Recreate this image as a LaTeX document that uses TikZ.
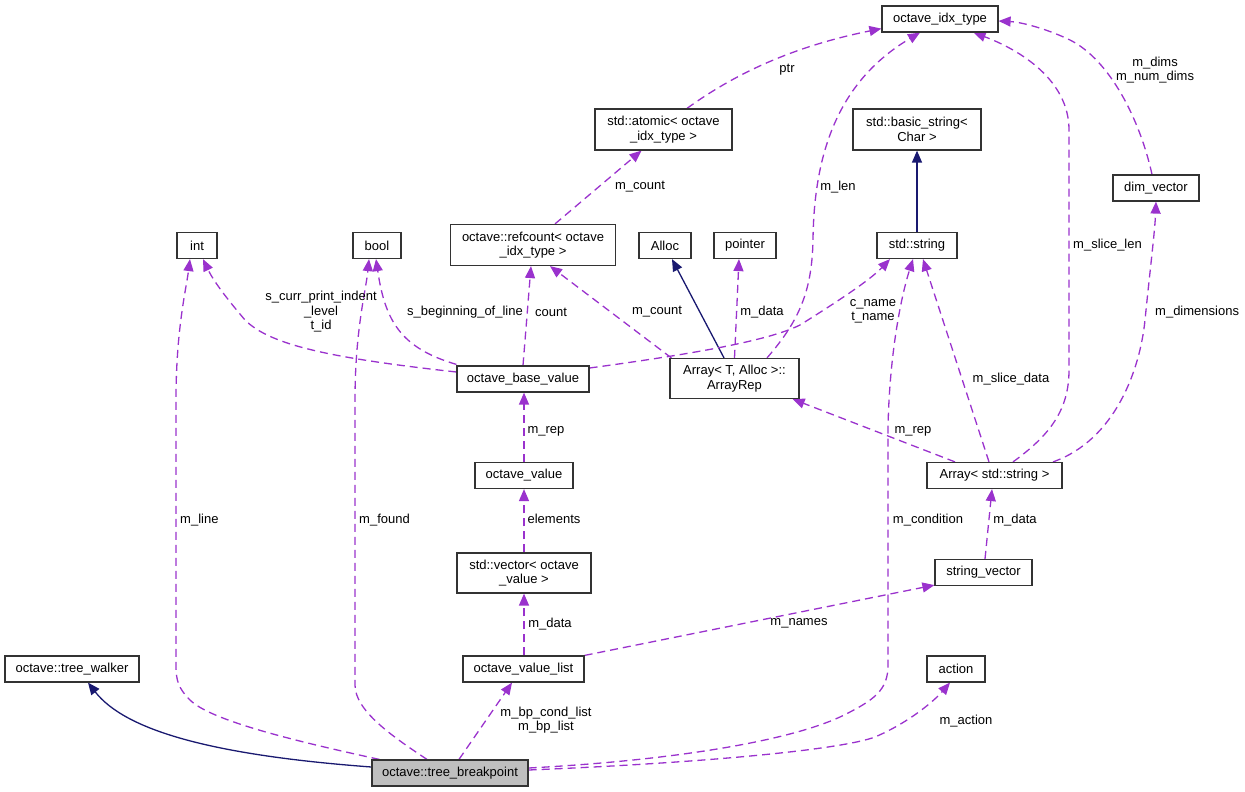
\documentclass[tikz,border=0pt]{standalone}
\usepackage{fontspec}
\setmainfont{Liberation Sans}
\usetikzlibrary{arrows.meta,backgrounds}
\definecolor{edgepurple}{HTML}{9A32CD}
\definecolor{edgenavy}{HTML}{191970}
\definecolor{boxgray}{HTML}{BFBFBF}
\begin{document}
\begin{tikzpicture}[x=1pt,y=-1pt,
  every node/.style={font=\fontsize{13}{14.5}\selectfont},
  cls/.style={draw=black!80, line width=1.2pt, fill=white, inner sep=0pt, align=center, minimum height=26pt},
  lbl/.style={inner sep=0pt, align=center},
  uses/.style={draw=edgepurple, line width=1.3pt, dash pattern=on 8pt off 5pt, -{Triangle[length=12pt,width=10pt]}},
  inherit/.style={draw=edgenavy, line width=1.3pt, -{Triangle[length=12pt,width=10pt]}},
]
\useasboundingbox (0,0) rectangle (1245,792);

% nodes
\node[cls, minimum width=116pt] (idx) at (940,19) {octave\_idx\_type};
\node[cls, minimum width=137pt, minimum height=41pt] (atomic) at (663.5,129.5) {std::atomic< octave\\\_idx\_type >};
\node[cls, minimum width=128pt, minimum height=41pt] (bstr) at (917,129.5) {std::basic\_string<\\Char >};
\node[cls, minimum width=86pt] (dimv) at (1156,188) {dim\_vector};
\node[cls, minimum width=40pt] (int) at (197,245.5) {int};
\node[cls, minimum width=48pt] (bool) at (377,245.5) {bool};
\node[cls, minimum width=165pt, minimum height=41pt] (refc) at (533,245) {octave::refcount< octave\\\_idx\_type >};
\node[cls, minimum width=52pt] (alloc) at (665,245.5) {Alloc};
\node[cls, minimum width=62pt] (pointer) at (745,245.5) {pointer};
\node[cls, minimum width=80pt] (sstr) at (917,245.5) {std::string};
\node[cls, minimum width=132pt] (obv) at (523,379) {octave\_base\_value};
\node[cls, minimum width=129pt, minimum height=40pt] (arep) at (734.5,378.5) {Array< T, Alloc >::\\ArrayRep};
\node[cls, minimum width=135pt] (astr) at (994.5,475.5) {Array< std::string >};
\node[cls, minimum width=98pt] (ov) at (524,475.5) {octave\_value};
\node[cls, minimum width=134pt, minimum height=40pt] (svec) at (524,573) {std::vector< octave\\\_value >};
\node[cls, minimum width=97pt] (strv) at (983.5,572.5) {string\_vector};
\node[cls, minimum width=134pt] (tw) at (72,669) {octave::tree\_walker};
\node[cls, minimum width=121pt] (ovl) at (523.5,669) {octave\_value\_list};
\node[cls, minimum width=58pt] (act) at (956,669) {action};
\node[cls, minimum width=156pt, fill=boxgray] (tb) at (450,773) {octave::tree\_breakpoint};

\begin{pgfonlayer}{background}
% inheritance
\draw[inherit] ([yshift=6pt]tb.west) .. controls (210,755) and (125,730) .. ([xshift=16pt]tw.south);
\draw[inherit] (sstr.north) -- (bstr.south);
\draw[inherit] ([xshift=-10.5pt]arep.north) -- ([xshift=7pt]alloc.south);

% usage
\draw[uses] ([xshift=8pt]tb.north west) .. controls (290,740) and (210,720) .. (190,700) .. controls (178,688) and (176,680) .. (176,665) -- (176,400) .. controls (176,330) and (186,290) .. ([xshift=-7pt]int.south);
\draw[uses] ([xshift=-23pt]tb.north) .. controls (390,735) and (355,710) .. (355,685) -- (355,400) .. controls (355,330) and (366,290) .. ([xshift=-8pt]bool.south);
\draw[uses] ([yshift=7pt]obv.west) .. controls (330,358) and (270,345) .. (245,320) .. controls (228,300) and (214,282) .. ([xshift=6pt]int.south);
\draw[uses] ([yshift=1pt]obv.north west) .. controls (400,348) and (385,320) .. ([xshift=-1pt]bool.south);
\draw[uses] (obv.north) -- ([xshift=-2pt]refc.south);
\draw[uses] ([yshift=11pt]obv.east) .. controls (700,353) and (770,340) .. (800,325) .. controls (840,300) and (870,280) .. ([xshift=-27pt]sstr.south);
\draw[uses] ([xshift=2pt]arep.north west) -- ([xshift=17pt]refc.south);
\draw[uses] (arep.north) -- ([xshift=-6pt]pointer.south);
\draw[uses] ([xshift=32.5pt]arep.north) .. controls (800,320) and (812,290) .. (813,240) .. controls (814,150) and (840,80) .. ([xshift=-20pt]idx.south);
\draw[uses] ([xshift=22pt]refc.north) -- ([xshift=-22pt]atomic.south);
\draw[uses] ([xshift=23.5pt]atomic.north) .. controls (740,70) and (800,45) .. ([yshift=4pt]idx.south west);
\draw[uses] ([xshift=-39.5pt]astr.north) -- ([xshift=-7pt]arep.south east);
\draw[uses] ([xshift=-5.5pt]astr.north) -- ([xshift=6pt]sstr.south);
\draw[uses] ([xshift=18.5pt]astr.north) .. controls (1050,435) and (1069,410) .. (1069,370) -- (1069,130) .. controls (1069,80) and (1020,50) .. ([xshift=-25pt]idx.south east);
\draw[uses] ([xshift=58.5pt]astr.north) .. controls (1115,440) and (1140,370) .. (1145,320) .. controls (1150,270) and (1155,230) .. (dimv.south);
\draw[uses] ([xshift=-4pt]dimv.north) .. controls (1140,120) and (1110,60) .. (1070,40) .. controls (1045,28) and (1020,22) .. ([yshift=-2pt]idx.east);
\draw[uses] (ov.north) -- ([xshift=1pt]obv.south);
\draw[uses] (svec.north) -- (ov.south);
\draw[uses] ([xshift=0.5pt]ovl.north) -- (svec.south);
\draw[uses] (ovl.north east) -- ([yshift=1pt]strv.south west);
\draw[uses] ([xshift=1.5pt]strv.north) -- ([xshift=-2.5pt]astr.south);
\draw[uses] ([xshift=9pt]tb.north) -- ([xshift=-11.5pt]ovl.south);
\draw[uses] ([yshift=5pt]tb.east) .. controls (680,760) and (790,740) .. (840,717) .. controls (875,700) and (888,690) .. (888,665) -- (888,430) .. controls (889,360) and (900,300) .. ([xshift=-4pt]sstr.south);
\draw[uses] ([yshift=3pt]tb.east) .. controls (700,763) and (840,750) .. (875,737) .. controls (910,722) and (935,700) .. ([xshift=-6pt]act.south);
\end{pgfonlayer}

% labels
\node[lbl] (l1) at (787,70) {ptr};
\node[lbl] (l2) at (640,187) {m\_count};
\node[lbl] (l3) at (838,187) {m\_len};
\node[lbl] (l4) at (1155,70) {m\_dims\\m\_num\_dims};
\node[lbl, anchor=west] (l5) at (1073,245) {m\_slice\_len};
\node[lbl, anchor=west] (l6) at (1155,312) {m\_dimensions};
\node[lbl] (l7) at (321,312) {s\_curr\_print\_indent\\\_level\\t\_id};
\node[lbl] (l8) at (465,312) {s\_beginning\_of\_line};
\node[lbl] (l9) at (551,312) {count};
\node[lbl] (l10) at (657,312) {m\_count};
\node[lbl] (l11) at (762,312) {m\_data};
\node[lbl] (l12) at (873,311.5) {c\_name\\t\_name};
\node[lbl] (l13) at (1011,379) {m\_slice\_data};
\node[lbl] (l14) at (546,431) {m\_rep};
\node[lbl] (l15) at (913,431) {m\_rep};
\node[lbl, anchor=west] (l16) at (180,520) {m\_line};
\node[lbl, anchor=west] (l17) at (359,520) {m\_found};
\node[lbl] (l18) at (554,519) {elements};
\node[lbl] (l19) at (928,520) {m\_condition};
\node[lbl] (l20) at (1015,520) {m\_data};
\node[lbl] (l21) at (550,624) {m\_data};
\node[lbl] (l22) at (799,623) {m\_names};
\node[lbl] (l23) at (546,720) {m\_bp\_cond\_list\\m\_bp\_list};
\node[lbl] (l24) at (966,721) {m\_action};
\end{tikzpicture}
\end{document}
